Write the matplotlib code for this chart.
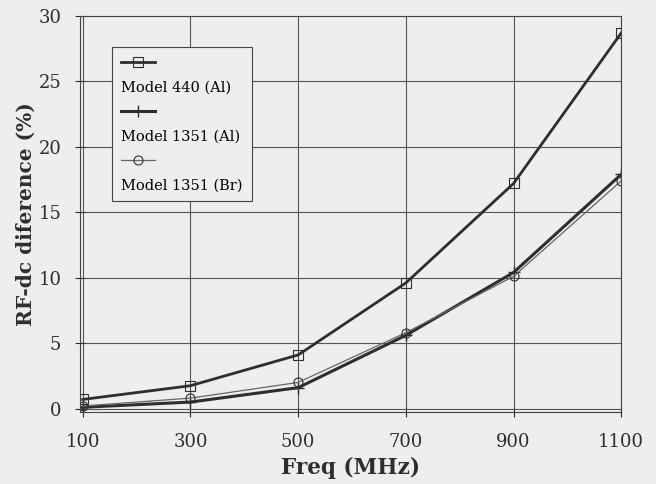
import matplotlib.pyplot as plt
from matplotlib.lines import Line2D

freq = [100, 300, 500, 700, 900, 1100]
model_440_al = [0.7, 1.75, 4.1, 9.6, 17.2, 28.7]
model_1351_al = [0.1, 0.5, 1.6, 5.6, 10.4, 17.9]
model_1351_br = [0.2, 0.8, 2.0, 5.8, 10.1, 17.4]
labels = ['Model 440 (Al)', 'Model 1351 (Al)', 'Model 1351 (Br)']
yticks = [0, 5, 10, 15, 20, 25, 30]

plt.rcParams['font.family'] = ['DejaVu Serif']
bg = '#eeeeee'
ink = '#2e2e2e'

fig = plt.figure(figsize=(6.56, 4.84), dpi=100, facecolor=bg)
ax = fig.add_axes([0.122, 0.149, 0.825, 0.818], facecolor=bg)

l1, = ax.plot(freq, model_440_al, color=ink, lw=2.0, marker='s', ms=6.5,
              mfc='none', mec=ink, mew=0.8)
l2, = ax.plot(freq, model_1351_al, color=ink, lw=2.2, marker='+', ms=8,
              mew=1.0)
l3, = ax.plot(freq, model_1351_br, color='#666666', lw=0.9, marker='o', ms=6.5,
              mfc='none', mec=ink, mew=0.8)

ax.set_xlim(95, 1100)
ax.set_ylim(-0.25, 30)
ax.set_xticks(freq)
ax.set_yticks(yticks)
ax.grid(True, color='#555555', lw=0.8)
ax.tick_params(direction='inout', length=7, width=0.8, labelsize=13,
               colors=ink)
ax.tick_params(axis='x', pad=12)
ax.tick_params(axis='y', pad=10)
for sp in ax.spines.values():
    sp.set_color('#444444')
    sp.set_linewidth(0.8)

ax.set_xlabel('Freq (MHz)', fontsize=15.5, fontweight='bold', color=ink,
              labelpad=4)
ax.set_ylabel('RF-dc diference (%)', fontsize=14.5, fontweight='bold',
              color=ink, labelpad=2)

# handle on its own row, label on the row below
blank = Line2D([], [], color='none')
handles = [l1, blank, l2, blank, l3, blank]
leg_labels = ['', labels[0], '', labels[1], '', labels[2]]
leg = ax.legend(handles, leg_labels, loc='upper left',
                bbox_to_anchor=(0.059, 0.922), fontsize=10.5,
                handlelength=2.3, handletextpad=-2.3, labelspacing=0.72,
                frameon=True, fancybox=False, borderpad=0.62,
                borderaxespad=0)
leg.get_frame().set_facecolor(bg)
leg.get_frame().set_edgecolor('#444444')
leg.get_frame().set_linewidth(0.8)
leg.get_frame().set_alpha(1)

fig.savefig('out.png', dpi=100, facecolor=bg)
